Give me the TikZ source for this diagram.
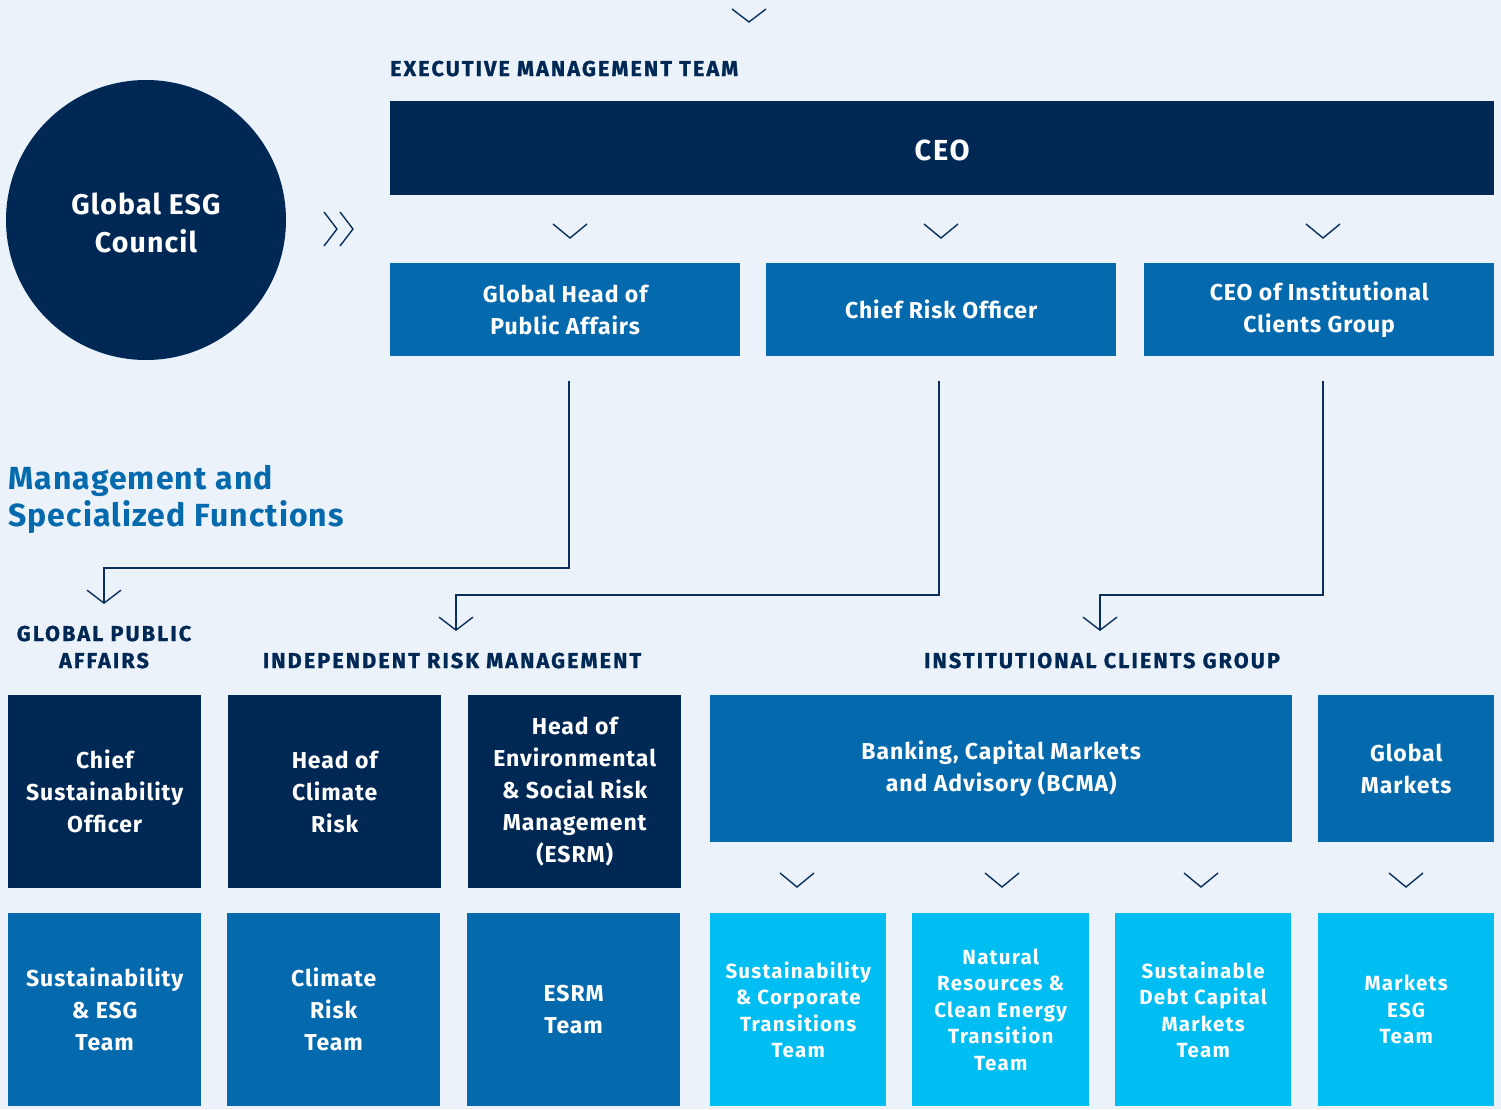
\documentclass[tikz,border=0pt]{standalone}
\usepackage{fontspec}
\setmainfont{Fira Sans}
\newfontfamily\boxfont{Fira Sans}[LetterSpace=4]
\newfontfamily\wideboxfont{Fira Sans}[LetterSpace=6]
\newfontfamily\headfont{Fira Sans}[LetterSpace=10, FakeBold=1.2]
\newfontfamily\titlefont{Fira Sans}[LetterSpace=3.5]
\usetikzlibrary{arrows.meta}
\definecolor{bgc}{HTML}{EBF2F9}
\definecolor{navy}{HTML}{002855}
\definecolor{midblue}{HTML}{0569AE}
\definecolor{cyanb}{HTML}{00BDF2}
\definecolor{linec}{HTML}{0B2F5C}
\tikzset{
  box/.style={rectangle, inner sep=0pt, anchor=north west, text=white, align=center,
    font=\boxfont\bfseries\fontsize{23}{32}\selectfont},
  smallbox/.style={box, font=\wideboxfont\bfseries\fontsize{20.5}{26.5}\selectfont},
  head/.style={text=navy, align=center, inner sep=0pt, font=\headfont\bfseries\fontsize{21.5}{27}\selectfont},
  chev/.style={draw=linec, line width=1.4pt},
  conn/.style={draw=linec, line width=1.4pt, -{Straight Barb[length=13pt,width=34pt,line width=1.4pt]}},
}
\begin{document}
\begin{tikzpicture}[x=1pt,y=-1pt]
\fill[bgc] (0,0) rectangle (1501,1109);
\useasboundingbox (0,0) rectangle (1501,1109);

% top chevron
\draw[chev] (732,9) -- (749,22) -- (766,9);

\node[head, anchor=base west] (emt) at (390,76) {EXECUTIVE MANAGEMENT TEAM};

% council disc and its label
\fill[navy] (146,220) circle[radius=140];
\node[inner sep=0pt, text=white, align=center,
  font=\boxfont\bfseries\fontsize{28.5}{38}\selectfont] (council) at (146,223) {Global ESG\\Council};

% double chevron
\draw[chev] (324,212) -- (337,229) -- (324,246);
\draw[chev] (340,212) -- (353,229) -- (340,246);

% CEO
\node[box, fill=navy, minimum width=1104pt, minimum height=94pt, text height=24pt, text depth=0pt,
  font=\wideboxfont\bfseries\fontsize{29}{34}\selectfont] (ceo) at (390,101) {CEO};

% chevrons under CEO
\foreach \cx in {570,941,1323}{
  \draw[chev] (\cx-17,224) -- (\cx,238) -- (\cx+17,224);
}

% second row
\node[box, fill=midblue, minimum width=350pt, minimum height=93pt] (gha) at (390,263) {Global Head of\\Public Affairs};
\node[box, fill=midblue, minimum width=350pt, minimum height=93pt] (cro) at (766,263) {Chief Risk Officer};
\node[box, fill=midblue, minimum width=350pt, minimum height=93pt] (icg) at (1144,263) {CEO of Institutional\\Clients Group};

% section title
\node[anchor=north west, inner sep=0pt, text=midblue, align=left,
  font=\titlefont\bfseries\fontsize{32}{37}\selectfont] (msf) at (8,465) {Management and\\Specialized Functions};

% connectors
\coordinate (s1) at (569,381);
\coordinate (s2) at (939,381);
\coordinate (s3) at (1323,381);
\coordinate (t1) at (104,604);
\coordinate (t2) at (456,631);
\coordinate (t3) at (1100,631);
\draw[conn] (s1) |- (104,568) -- (t1);
\draw[conn] (s2) |- (456,595) -- (t2);
\draw[conn] (s3) |- (1100,595) -- (t3);

% group headings
\node[head, anchor=base] (gpa) at (104,668) {GLOBAL PUBLIC\\AFFAIRS};
\node[head, anchor=base] (irm) at (452,668) {INDEPENDENT RISK MANAGEMENT};
\node[head, anchor=base] (icgh) at (1102,668) {INSTITUTIONAL CLIENTS GROUP};

% third row
\node[box, fill=navy, minimum width=193pt, minimum height=193pt] (cso) at (8,695) {Chief\\Sustainability\\Officer};
\node[box, fill=navy, minimum width=213pt, minimum height=193pt] (hcr) at (228,695) {Head of\\Climate\\Risk};
\node[box, fill=navy, minimum width=213pt, minimum height=193pt] (hesrm) at (468,695) {Head of\\Environmental\\\& Social Risk\\Management\\(ESRM)};
\node[box, fill=midblue, minimum width=582pt, minimum height=147pt] (bcma) at (710,695) {Banking, Capital Markets\\and Advisory (BCMA)};
\node[box, fill=midblue, minimum width=176pt, minimum height=147pt] (gm) at (1318,695) {Global\\Markets};

% chevrons under ICG boxes
\foreach \cx in {797,1002,1201,1406}{
  \draw[chev] (\cx-17,873) -- (\cx,887) -- (\cx+17,873);
}

% fourth row
\node[box, fill=midblue, minimum width=193pt, minimum height=193pt] (sesg) at (8,913) {Sustainability\\\& ESG\\Team};
\node[box, fill=midblue, minimum width=213pt, minimum height=193pt] (crt) at (227,913) {Climate\\Risk\\Team};
\node[box, fill=midblue, minimum width=213pt, minimum height=193pt] (esrmt) at (467,913) {ESRM\\Team};
\node[smallbox, fill=cyanb, minimum width=176pt, minimum height=193pt] (sct) at (710,913) {Sustainability\\\& Corporate\\Transitions\\Team};
\node[smallbox, fill=cyanb, minimum width=177pt, minimum height=193pt] (nrt) at (912,913) {Natural\\Resources \&\\Clean Energy\\Transition\\Team};
\node[smallbox, fill=cyanb, minimum width=176pt, minimum height=193pt] (sdt) at (1115,913) {Sustainable\\Debt Capital\\Markets\\Team};
\node[smallbox, fill=cyanb, minimum width=176pt, minimum height=193pt] (met) at (1318,913) {Markets\\ESG\\Team};
\end{tikzpicture}
\end{document}
